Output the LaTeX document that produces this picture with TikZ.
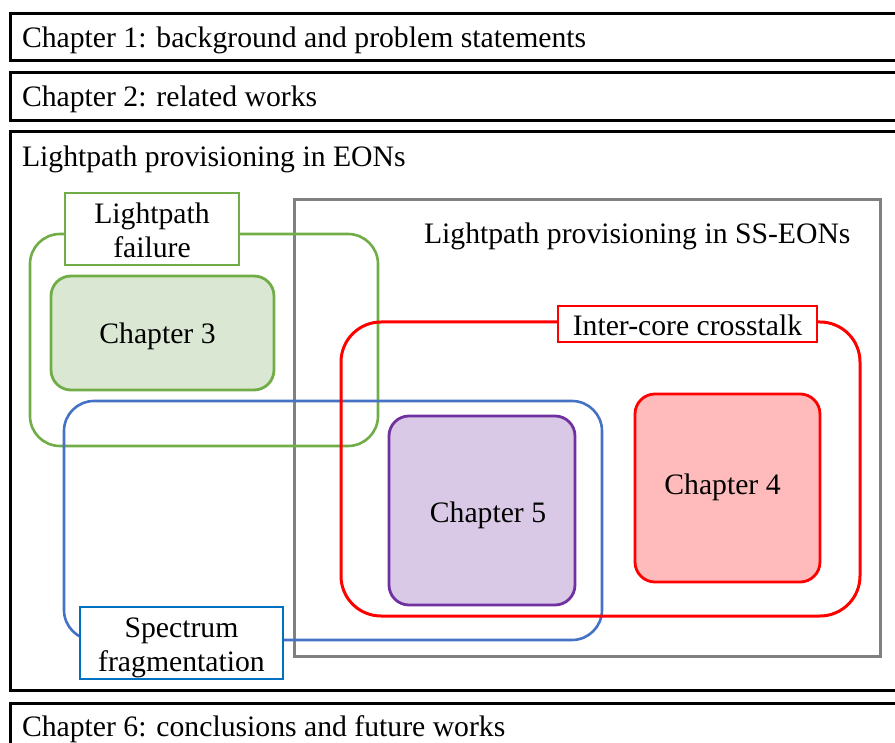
\documentclass[tikz,border=0pt]{standalone}
\usepackage{fontspec}
\setmainfont{Liberation Serif}
\definecolor{grpgreen}{HTML}{70AD47}
\definecolor{ch3fill}{HTML}{DAE8D3}
\definecolor{grpblue}{HTML}{4472C4}
\definecolor{lblblue}{HTML}{0070C0}
\definecolor{grpred}{HTML}{FF0000}
\definecolor{ch4fill}{HTML}{FFBBBB}
\definecolor{grppurple}{HTML}{7030A0}
\definecolor{ch5fill}{HTML}{D9C9E6}
\definecolor{grpgray}{HTML}{808080}
% text set on a baseline shifted from the node centre
\newcommand{\basedown}[2]{\raisebox{-#1}[0pt][0pt]{#2}}
\begin{document}
\begin{tikzpicture}[x=1pt,y=-1pt,
  every node/.style={outer sep=0pt, inner sep=0pt, font=\fontsize{29.7}{34}\selectfont},
  bar/.style={draw=black, line width=3pt, anchor=north west, rectangle},
  txt/.style={anchor=base west},
  group/.style={draw, line width=2.6pt, rectangle, rounded corners=#1},
  chapbox/.style={draw, line width=2.8pt, rectangle, rounded corners=20pt},
  tag/.style={draw, fill=white, line width=2pt, rectangle, align=center}
]
\useasboundingbox (0,0) rectangle (895,743);

% chapter bars
\node[bar, minimum width=895pt, minimum height=47pt] (bar1) at (10,14) {};
\node[bar, minimum width=895pt, minimum height=48pt] (bar2) at (10,73) {};
\node[bar, minimum width=895pt, minimum height=558pt] (bar3) at (10,132) {};
\node[bar, minimum width=895pt, minimum height=60pt] (bar6) at (10,703) {};

\node[txt] (t1) at (22,48) {Chapter 1: background and problem statements};
\node[txt] (t2) at (22,107) {Chapter 2: related works};
\node[txt] (t3) at (22,167) {Lightpath provisioning in EONs};
\node[txt] (t6) at (22,736) {Chapter 6: conclusions and future works};

% SS-EON region
\node[draw=grpgray, line width=3pt, rectangle, minimum width=586pt, minimum height=456pt] (ss) at (587.5,428) {};
\node[txt] (tss) at (424,244) {Lightpath provisioning in SS-EONs};

% overlapping topic groups
\node[group=30pt, draw=grpgreen, minimum width=348pt, minimum height=212pt] (gfail) at (204,340) {};
\node[group=30pt, draw=grpblue, minimum width=538pt, minimum height=239pt] (gfrag) at (333,520.5) {};
\node[group=40pt, draw=grpred, line width=3pt, minimum width=519pt, minimum height=294pt] (gxt) at (600.5,469) {};

% chapters
\node[chapbox, draw=grpgreen, fill=ch3fill, minimum width=223pt, minimum height=114pt] (ch3) at (162.5,333) {\hspace*{-10pt}\basedown{10.5pt}{Chapter 3}};
\node[chapbox, draw=grpred, fill=ch4fill, minimum width=185pt, minimum height=188pt] (ch4) at (727.5,488) {\hspace*{-10pt}\basedown{6.75pt}{Chapter 4}};
\node[chapbox, draw=grppurple, fill=ch5fill, minimum width=186pt, minimum height=189pt] (ch5) at (482,510.5) {\hspace*{12pt}\basedown{11.5pt}{Chapter 5}};

% group labels
\node[tag, draw=grpgreen, minimum width=174pt, minimum height=72pt] (lfail) at (152,229) {};
\node[align=center] (lfailtext) at (152,230.5) {Lightpath\\failure};
\node[tag, draw=lblblue, minimum width=203pt, minimum height=72pt] (lfrag) at (181.5,643) {};
\node[align=center] (lfragtext) at (181.5,647.5) {Spectrum\\fragmentation};
\node[tag, draw=grpred, minimum width=259pt, minimum height=36pt] (lxt) at (687.5,324) {};
\node (lxttext) at (687.5,325) {Inter-core crosstalk};
\end{tikzpicture}
\end{document}
